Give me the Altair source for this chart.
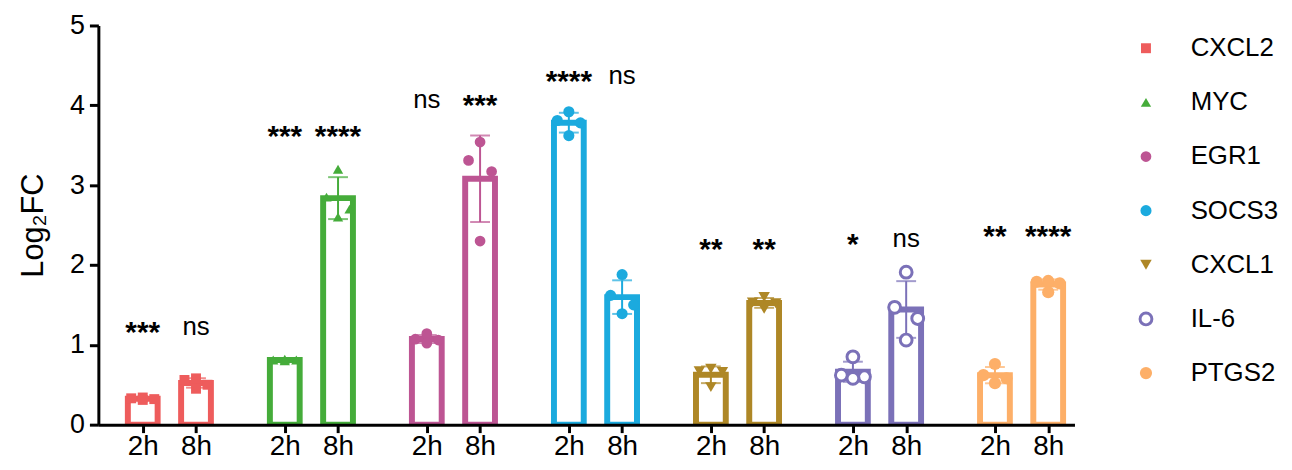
import altair as alt
import pandas as pd
import numpy as np

genes = ["CXCL2", "MYC", "EGR1", "SOCS3", "CXCL1", "IL-6", "PTGS2"]
colors = ["#EE5C5C", "#45AC3A", "#BD5593", "#1BAADE", "#AE8726", "#7B71B8", "#FDAF68"]
shapes = ["square", "triangle-up", "circle", "circle", "triangle-down", "circle", "circle"]
times = ["2h", "8h"]

# replicate values [2h, 8h] per gene
CXCL2 = [[0.34, 0.33, 0.32, 0.31], [0.58, 0.56, 0.50, 0.45]]
MYC = [[0.82, 0.81, 0.81, 0.80], [3.20, 2.85, 2.70, 2.60]]
EGR1 = [[1.14, 1.07, 1.06, 1.02], [3.54, 3.31, 3.17, 2.30]]
SOCS3 = [[3.92, 3.81, 3.78, 3.62], [1.88, 1.62, 1.50, 1.39]]
CXCL1 = [[0.70, 0.67, 0.66, 0.47], [1.60, 1.53, 1.52, 1.45]]
IL6 = [[0.85, 0.62, 0.60, 0.58], [1.91, 1.47, 1.33, 1.06]]
PTGS2 = [[0.76, 0.62, 0.58, 0.52], [1.80, 1.79, 1.77, 1.66]]

sig_2h = ["***", "***", "ns", "****", "**", "*", "**"]
sig_8h = ["ns", "****", "***", "ns", "**", "ns", "****"]
sig_y = [1.12, 3.58, 3.97, 4.27, 2.16, 2.22, 2.33]

reps = [CXCL2, MYC, EGR1, SOCS3, CXCL1, IL6, PTGS2]
offsets = [0.0, -0.65, 0.65, 0.0]

rows, bars = [], []
for g, gene in enumerate(genes):
    for t, tm in enumerate(times):
        pos = 8 * g + 3 * t
        vals = reps[g][t]
        for i, v in enumerate(vals):
            rows.append(dict(gene=gene, time=tm, px=pos + offsets[i], value=v))
        m = float(np.mean(vals))
        sd = float(np.std(vals, ddof=1))
        bars.append(dict(gene=gene, time=tm, pos=pos, mean=m, lo=m - sd, hi=m + sd,
                         sig=(sig_2h if t == 0 else sig_8h)[g], sig_y=sig_y[g]))

pts = pd.DataFrame(rows)
bdf = pd.DataFrame(bars)
tick_positions = list(bdf["pos"])

FONT = "Liberation Sans"
xs = alt.Scale(domain=[-2.22, 52.2], nice=False, zero=False)
ys = alt.Scale(domain=[0, 5], nice=False)
cscale = alt.Scale(domain=genes, range=colors)
sscale = alt.Scale(domain=genes, range=shapes)

x_axis = alt.Axis(values=tick_positions, labelExpr="datum.value % 8 == 0 ? '2h' : '8h'",
                  title=None, grid=False, tickSize=8, tickWidth=3, domainWidth=3,
                  domainColor="black", tickColor="black", labelColor="black",
                  labelFontSize=28, labelPadding=0, labelFont=FONT, zindex=1, labelFlush=False)
y_axis = alt.Axis(values=[0, 1, 2, 3, 4, 5], title="Log₂FC", grid=False, tickSize=9, tickWidth=3,
                  domainWidth=3, domainColor="black", tickColor="black", labelColor="black",
                  labelFontSize=27, labelPadding=5, labelFont=FONT, titleFont=FONT,
                  titleFontSize=31, titleFontWeight="normal", titlePadding=20, titleColor="black",
                  zindex=1)


def X(field):
    return alt.X(field, scale=xs, axis=x_axis, title=None)


def Y(field):
    return alt.Y(field, scale=ys, axis=y_axis, title="Log₂FC")


base = alt.Chart(bdf)
bar = base.mark_bar(size=30, fill="white", strokeWidth=6, clip=True).encode(
    x=X("pos:Q"),
    y=Y("mean:Q"),
    stroke=alt.Stroke("gene:N", scale=cscale, legend=None),
)
err = base.mark_rule(strokeWidth=2).encode(
    x=X("pos:Q"),
    y=Y("lo:Q"),
    y2="hi:Q",
    color=alt.Color("gene:N", scale=cscale, legend=None),
)
cap_hi = base.mark_tick(orient="horizontal", size=20, thickness=2).encode(
    x=X("pos:Q"),
    y=Y("hi:Q"),
    color=alt.Color("gene:N", scale=cscale, legend=None),
)
cap_lo = base.mark_tick(orient="horizontal", size=20, thickness=2).encode(
    x=X("pos:Q"),
    y=Y("lo:Q"),
    color=alt.Color("gene:N", scale=cscale, legend=None),
)

is_open = "datum.gene === 'IL-6'"


def point_enc(sizes):
    return dict(
        shape=alt.Shape("gene:N", scale=sscale, legend=None),
        fill=alt.condition(is_open, alt.value("white"), alt.Fill("gene:N", scale=cscale, legend=None)),
        stroke=alt.Stroke("gene:N", scale=cscale, legend=None),
        strokeWidth=alt.condition(is_open, alt.value(3), alt.value(0)),
        size=alt.Size("gene:N", scale=alt.Scale(domain=genes, range=sizes), legend=None),
    )


pt_sizes = [100, 150, 120, 120, 150, 110, 120]
points = alt.Chart(pts).mark_point(opacity=1).encode(
    x=X("px:Q"),
    y=Y("value:Q"),
    **point_enc(pt_sizes),
)

ns_text = base.transform_filter("datum.sig === 'ns'").mark_text(
    fontSize=26, font=FONT, baseline="alphabetic", color="black").encode(
    x=X("pos:Q"),
    y=Y("sig_y:Q"),
    text="sig:N",
)
star_text = base.transform_filter("datum.sig !== 'ns'").mark_text(
    fontSize=30, font=FONT, fontWeight="bold", baseline="alphabetic", dy=7, color="black").encode(
    x=X("pos:Q"),
    y=Y("sig_y:Q"),
    text="sig:N",
)

main = alt.layer(bar, err, cap_hi, cap_lo, points, ns_text, star_text).properties(width=983, height=402)

ldf = pd.DataFrame({"gene": genes})
lbase = alt.Chart(ldf).encode(
    y=alt.Y("gene:N", scale=alt.Scale(domain=genes, padding=0.42), axis=None, sort=genes)
)
leg_sizes = [150, 150, 140, 140, 150, 120, 140]
lpoints = lbase.mark_point(opacity=1).encode(x=alt.value(12), **point_enc(leg_sizes))
ltext = lbase.mark_text(align="left", baseline="middle", fontSize=26, font=FONT, color="black").encode(
    x=alt.value(57), text="gene:N"
)
legend = alt.layer(lpoints, ltext).properties(width=130, height=373)

chart = alt.hconcat(main, legend, spacing=60, bounds="flush").properties(
    padding={"left": 9, "top": 2, "right": 5, "bottom": 0}
).configure(font=FONT).configure_view(stroke=None)

chart.save("out.html", embed_options={"renderer": "svg", "actions": False})
